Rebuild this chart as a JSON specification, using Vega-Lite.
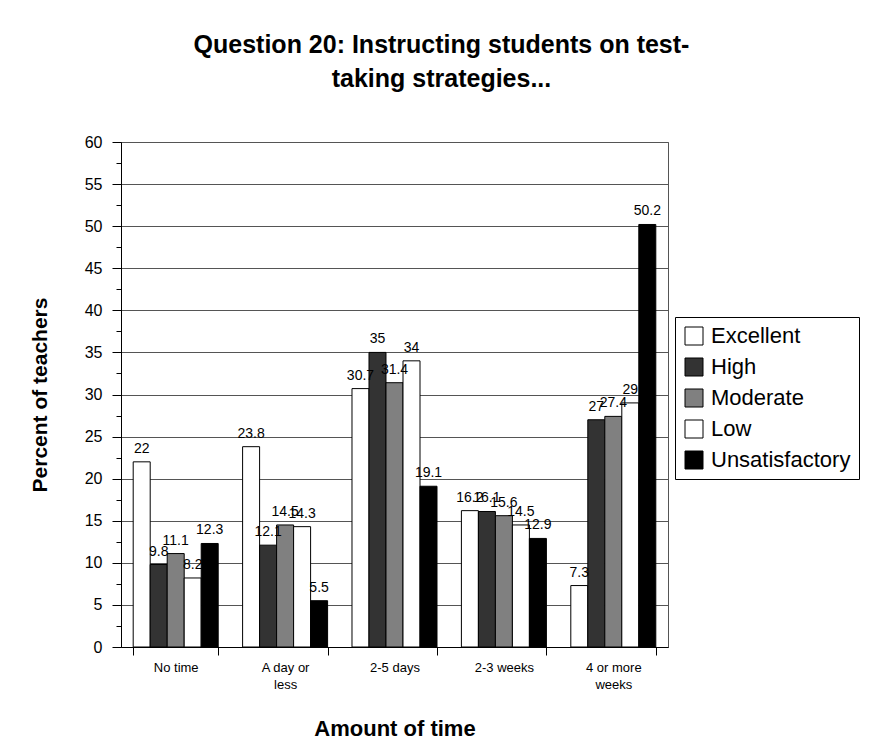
{
  "$schema": "https://vega.github.io/schema/vega-lite/v6.json",
  "width": 547,
  "height": 505,
  "autosize": {"type": "none"},
  "padding": {"left": 121, "top": 142, "right": 219, "bottom": 108},
  "background": "white",
  "title": {
    "text": ["Question 20: Instructing students on test-", "taking strategies..."],
    "font": "Liberation Sans",
    "fontSize": 25,
    "fontWeight": "bold",
    "lineHeight": 34,
    "anchor": "middle",
    "dx": 47,
    "offset": 42,
    "color": "black"
  },
  "data": {
    "values": [
      {"time": "No time", "rating": "Excellent", "pct": 22},
      {"time": "No time", "rating": "High", "pct": 9.8},
      {"time": "No time", "rating": "Moderate", "pct": 11.1},
      {"time": "No time", "rating": "Low", "pct": 8.2},
      {"time": "No time", "rating": "Unsatisfactory", "pct": 12.3},
      {"time": "A day or less", "rating": "Excellent", "pct": 23.8},
      {"time": "A day or less", "rating": "High", "pct": 12.1},
      {"time": "A day or less", "rating": "Moderate", "pct": 14.5},
      {"time": "A day or less", "rating": "Low", "pct": 14.3},
      {"time": "A day or less", "rating": "Unsatisfactory", "pct": 5.5},
      {"time": "2-5 days", "rating": "Excellent", "pct": 30.7},
      {"time": "2-5 days", "rating": "High", "pct": 35},
      {"time": "2-5 days", "rating": "Moderate", "pct": 31.4},
      {"time": "2-5 days", "rating": "Low", "pct": 34},
      {"time": "2-5 days", "rating": "Unsatisfactory", "pct": 19.1},
      {"time": "2-3 weeks", "rating": "Excellent", "pct": 16.2},
      {"time": "2-3 weeks", "rating": "High", "pct": 16.1},
      {"time": "2-3 weeks", "rating": "Moderate", "pct": 15.6},
      {"time": "2-3 weeks", "rating": "Low", "pct": 14.5},
      {"time": "2-3 weeks", "rating": "Unsatisfactory", "pct": 12.9},
      {"time": "4 or more weeks", "rating": "Excellent", "pct": 7.3},
      {"time": "4 or more weeks", "rating": "High", "pct": 27},
      {"time": "4 or more weeks", "rating": "Moderate", "pct": 27.4},
      {"time": "4 or more weeks", "rating": "Low", "pct": 29},
      {"time": "4 or more weeks", "rating": "Unsatisfactory", "pct": 50.2}
    ]
  },
  "encoding": {
    "x": {
      "field": "time",
      "type": "nominal",
      "sort": ["No time", "A day or less", "2-5 days", "2-3 weeks", "4 or more weeks"],
      "scale": {"paddingInner": 0.223, "paddingOuter": 0.1115},
      "axis": {
        "title": "Amount of time",
        "titleFont": "Liberation Sans",
        "titleFontSize": 22,
        "titleFontWeight": "bold",
        "titleColor": "black",
        "titlePadding": 27,
        "labelAngle": 0,
        "labelFont": "Liberation Sans",
        "labelFontSize": 13,
        "labelColor": "black",
        "labelPadding": 6,
        "labelLineHeight": 17,
        "labelExpr": "datum.value == 'A day or less' ? ['A day or', 'less'] : datum.value == '4 or more weeks' ? ['4 or more', 'weeks'] : datum.label",
        "tickBand": "extent",
        "tickSize": 8,
        "tickColor": "black",
        "domainColor": "black",
        "grid": false
      }
    },
    "xOffset": {
      "field": "rating",
      "type": "nominal",
      "sort": ["Excellent", "High", "Moderate", "Low", "Unsatisfactory"],
      "scale": {"paddingInner": 0, "paddingOuter": 0}
    },
    "y": {
      "field": "pct",
      "type": "quantitative",
      "scale": {"domain": [0, 60], "nice": false},
      "axis": {
        "title": "Percent of teachers",
        "titleFont": "Liberation Sans",
        "titleFontSize": 21,
        "titleFontWeight": "bold",
        "titleColor": "black",
        "titlePadding": 34,
        "values": [0, 2.5, 5, 7.5, 10, 12.5, 15, 17.5, 20, 22.5, 25, 27.5, 30, 32.5, 35, 37.5, 40, 42.5, 45, 47.5, 50, 52.5, 55, 57.5, 60],
        "labelExpr": "datum.value % 5 === 0 ? datum.label : ''",
        "labelFont": "Liberation Sans",
        "labelFontSize": 16,
        "labelColor": "black",
        "labelPadding": 10,
        "tickSize": {"condition": {"test": "datum.value % 5 === 0", "value": 9}, "value": 5},
        "tickColor": "black",
        "domainColor": "black",
        "gridColor": "#555555",
        "gridOpacity": {"condition": {"test": "datum.value % 5 === 0", "value": 1}, "value": 0}
      }
    }
  },
  "layer": [
    {
      "mark": {"type": "bar", "stroke": "black", "strokeWidth": 1},
      "encoding": {
        "fill": {
          "field": "rating",
          "type": "nominal",
          "sort": ["Excellent", "High", "Moderate", "Low", "Unsatisfactory"],
          "scale": {
            "domain": ["Excellent", "High", "Moderate", "Low", "Unsatisfactory"],
            "range": ["#ffffff", "#333333", "#808080", "#ffffff", "#000000"]
          },
          "legend": {
            "title": null,
            "orient": "none",
            "legendX": 554,
            "legendY": 175,
            "strokeColor": "black",
            "padding": 8,
            "symbolType": "square",
            "symbolSize": 324,
            "symbolStrokeColor": "black",
            "symbolStrokeWidth": 1,
            "labelFont": "Liberation Sans",
            "labelFontSize": 22,
            "labelColor": "black",
            "labelLimit": 300,
            "rowPadding": 9,
            "labelOffset": 6
          }
        }
      }
    },
    {
      "mark": {"type": "text", "baseline": "bottom", "dy": -6, "font": "Liberation Sans", "fontSize": 14, "color": "black"},
      "encoding": {
        "text": {"field": "pct", "type": "quantitative"}
      }
    }
  ],
  "config": {
    "view": {"stroke": "#555555", "strokeWidth": 1}
  }
}
